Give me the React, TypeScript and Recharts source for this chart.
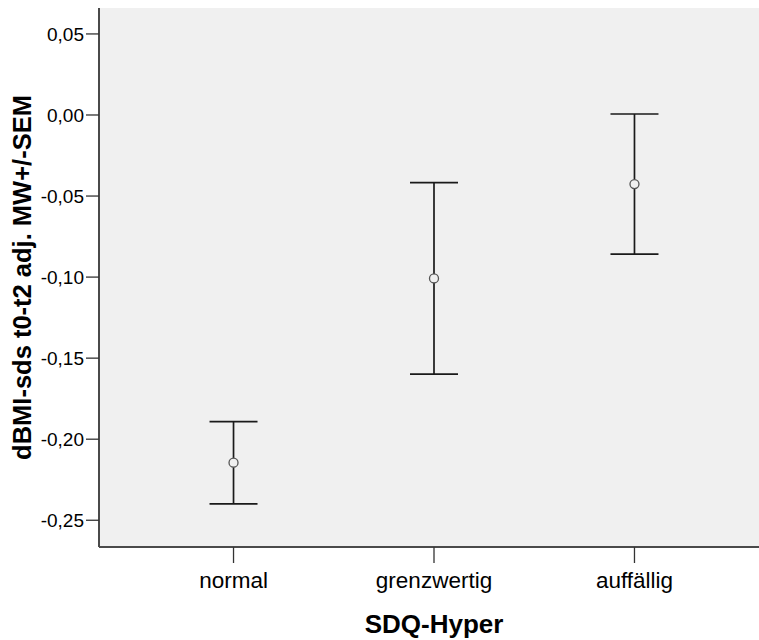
import { ScatterChart, Scatter, XAxis, YAxis, ErrorBar, CartesianGrid } from "recharts";

const groups = ["normal", "grenzwertig", "auffällig"];
const positions = [1, 2, 3];
const means = [-0.2145, -0.1008, -0.0426];
const sems = [0.0254, 0.0591, 0.0432];
const yTicks = [0.05, 0, -0.05, -0.1, -0.15, -0.2, -0.25];

const data = groups.map((g, i) => ({ name: g, pos: positions[i], mean: means[i], sem: sems[i] }));

const font = "'Liberation Sans', Arial, sans-serif";
const xDomain = [0.329, 3.671];

const fmt = (v: number) => v.toFixed(2).replace(".", ",");

const MeanDot = (props: any) => {
  const { cx, cy } = props;
  return <circle cx={cx} cy={cy} r={4.5} fill="#f0f0f0" stroke="#555" strokeWidth={1.3} />;
};

const YTitle = (props: any) => {
  const { viewBox } = props;
  const cy = viewBox.y + viewBox.height / 2;
  return (
    <text x={31} y={cy} transform={`rotate(-90 31 ${cy})`} textAnchor="middle"
      fontFamily={font} fontWeight="bold" fontSize={25.5} fill="#000">
      dBMI-sds t0-t2 adj. MW+/-SEM
    </text>
  );
};

const App = () => {
  return (
    <div style={{ position: "fixed", left: 0, top: 0, width: 759, height: 640, overflow: "hidden", background: "#fff" }}>
      <style>{"html, body { overflow: hidden; margin: 0; }"}</style>
      <ScatterChart width={775} height={640} margin={{ top: 8, right: 6, bottom: 0, left: 0 }}>
        <CartesianGrid fill="#f0f0f0" horizontal={false} vertical={false} />
        <XAxis
          dataKey="pos"
          type="number"
          domain={xDomain}
          ticks={positions}
          tickFormatter={(v: number) => groups[positions.indexOf(v)]}
          height={93}
          tickSize={16}
          tickMargin={9}
          axisLine={{ stroke: "#4a4a4a", strokeWidth: 2 }}
          tickLine={{ stroke: "#333", strokeWidth: 1.3 }}
          tick={{ fontFamily: font, fontSize: 22.5, fill: "#000" }}
          allowDataOverflow
          label={{ value: "SDQ-Hyper", position: "insideBottom", offset: 7, fontFamily: font, fontWeight: "bold", fontSize: 26, fill: "#000" }}
        />
        <XAxis
          xAxisId="top"
          orientation="top"
          type="number"
          domain={xDomain}
          height={0}
          tick={false}
          tickLine={false}
          axisLine={{ stroke: "#4a4a4a", strokeWidth: 2 }}
        />
        <YAxis
          dataKey="mean"
          type="number"
          domain={[-0.2665, 0.066]}
          ticks={yTicks}
          tickFormatter={fmt}
          width={99}
          tickSize={13}
          tickMargin={2}
          axisLine={{ stroke: "#4a4a4a", strokeWidth: 2 }}
          tickLine={{ stroke: "#333", strokeWidth: 1.3 }}
          tick={{ fontFamily: font, fontSize: 19, fill: "#000" }}
          allowDataOverflow
          label={{ content: YTitle }}
        />
        <Scatter data={data} dataKey="mean" isAnimationActive={false} shape={MeanDot}>
          <ErrorBar dataKey="sem" direction="y" width={24} stroke="#1a1a1a" strokeWidth={1.7} isAnimationActive={false} />
        </Scatter>
      </ScatterChart>
    </div>
  );
};

export default App;
